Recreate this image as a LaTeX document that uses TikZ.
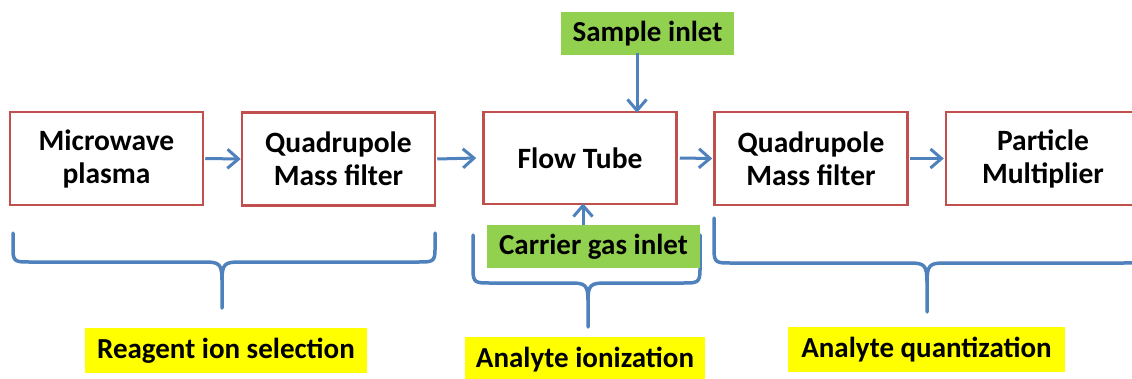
\documentclass[tikz,border=0pt]{standalone}
\usepackage{fontspec}
\setmainfont{Carlito}
\usetikzlibrary{arrows.meta}
\definecolor{boxred}{RGB}{192,80,77}
\definecolor{arrblue}{RGB}{79,129,189}
\definecolor{grn}{RGB}{146,208,80}
\definecolor{ylw}{RGB}{255,255,0}
\tikzset{
  stagebox/.style={draw=boxred, line width=2.5pt, fill=white, minimum width=193pt, minimum height=93pt, align=center, inner sep=0pt, font=\fontsize{29.5}{33}\selectfont\bfseries},
  inletbox/.style={fill=grn, minimum height=43pt, inner sep=0pt, font=\fontsize{29}{33}\selectfont\bfseries},
  labelbox/.style={fill=ylw, minimum height=45pt, inner sep=0pt, font=\fontsize{29}{33}\selectfont\bfseries},
  flowarrow/.style={draw=arrblue, line width=3pt, -{Straight Barb[length=11pt,width=19pt,line width=3pt]}},
  bracepath/.style={draw=arrblue, line width=3.5pt, line cap=round, line join=round}
}
\begin{document}
\begin{tikzpicture}[x=1pt,y=-1pt]
\useasboundingbox (0,0) rectangle (1132,378);
\clip (0,0) rectangle (1132,378);
\fill[white] (0,0) rectangle (1132,378);

% stage boxes
\node[stagebox] (mw) at (106.5,158.5) {Microwave\\plasma};
\node[stagebox] (qa) at (338.5,159) {Quadrupole\\Mass filter};
\node[stagebox, minimum height=92pt] (ft) at (580,158) {Flow Tube};
\node[stagebox] (qb) at (811,158.5) {Quadrupole\\Mass filter};
\node[stagebox, minimum width=194pt, text width=194pt] (pm) at (1043,158.5) {Particle\\Multiplier};

% horizontal arrows
\draw[flowarrow] ([xshift=1pt]mw.east) -- (qa.west);
\draw[flowarrow] ([xshift=1pt]qa.east) -- ([xshift=-6pt]ft.west);
\draw[flowarrow] ([xshift=2pt]ft.east) -- ([xshift=-1pt]qb.west);
\draw[flowarrow] ([xshift=1pt]qb.east) -- ([xshift=-1pt]pm.west);

% braces
\coordinate (rtip) at (222,308);
\draw[bracepath] (13,233) -- (13,250) .. controls (13,262) and (16,262) .. (30,262) -- (205,262) .. controls (219,262) and (222,264) .. (222,280) -- (rtip);
\draw[bracepath] (435,233) -- (435,250) .. controls (435,262) and (432,262) .. (418,262) -- (239,262) .. controls (225,262) and (222,264) .. (222,280);

\coordinate (itip) at (588,327);
\draw[bracepath] (473,235) -- (473,270) .. controls (473,283) and (476,283) .. (490,283) -- (571,283) .. controls (585,283) and (588,285) .. (588,300) -- (itip);
\draw[bracepath] (700,235) -- (700,270) .. controls (700,283) and (697,283) .. (683,283) -- (605,283) .. controls (591,283) and (588,285) .. (588,300);

\coordinate (qtip) at (927,312);
\draw[bracepath] (714,218) -- (714,250) .. controls (714,263) and (717,263) .. (731,263) -- (910,263) .. controls (924,263) and (927,265) .. (927,282) -- (qtip);
\draw[bracepath] (1140,218) -- (1140,250) .. controls (1140,263) and (1137,263) .. (1123,263) -- (944,263) .. controls (930,263) and (927,265) .. (927,282);

% inlets
\node[inletbox, minimum width=173pt] (si) at (647.5,33.5) {Sample inlet};
\node[inletbox, minimum width=213pt] (cg) at (593.5,246.5) {Carrier gas inlet};
\coordinate (sx) at (637,0);
\coordinate (cx) at (583,0);
\draw[flowarrow] ([yshift=2pt]si.south -| sx) -- ([yshift=-2pt]ft.north -| sx);
\draw[flowarrow] (cg.north -| cx) -- ([yshift=2pt]ft.south -| cx);

% labels
\node[labelbox, minimum width=282pt] (rl) at (226,350.5) {Reagent ion selection};
\node[labelbox, minimum width=240pt] (il) at (585,359.5) {Analyte ionization};
\node[labelbox, minimum width=277pt] (ql) at (926.5,349.5) {Analyte quantization};
\end{tikzpicture}
\end{document}
